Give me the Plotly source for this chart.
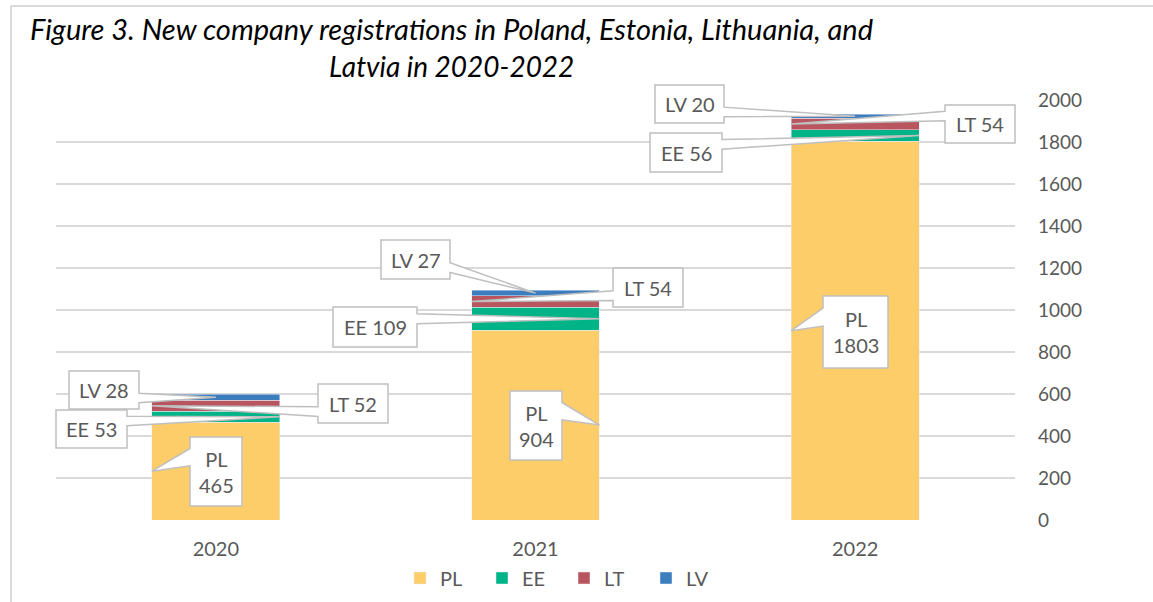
import numpy as np
import plotly.graph_objects as go

# ---- data ----
years = ["2020", "2021", "2022"]
series_names = ["PL", "EE", "LT", "LV"]
pl = [465, 904, 1803]
ee = [53, 109, 56]
lt = [52, 54, 54]
lv = [28, 27, 20]
y_ticks = [0, 200, 400, 600, 800, 1000, 1200, 1400, 1600, 1800, 2000]
title_line1 = "Figure 3. New company registra\u200ctions in Poland, Estonia, Lithuania, and"
title_line2 = "Latvia in 2020-2022"

# ---- style ----
colors = {"PL": "#FDCD6A", "EE": "#00B487", "LT": "#B9555F", "LV": "#3C7DBE"}
TXT = "#595959"
GRID = "#D9D9D9"
FONT = "Lato"
W, H = 1153, 602
ML, MR, MT, MB = 56, 138, 100, 82
PW, PH = W - ML - MR, H - MT - MB
YMAX = 2000
BARW = 0.4

def px(x):
    return (x - ML) / PW

def py(y):
    return (H - MB - y) / PH

values = {"PL": pl, "EE": ee, "LT": lt, "LV": lv}

fig = go.Figure()
for s in series_names:
    fig.add_trace(go.Bar(name=s, x=years, y=values[s], marker_color=colors[s],
                         width=BARW, hoverinfo="skip"))

# cumulative middles of each segment
stack = np.vstack([values[s] for s in series_names]).astype(float)
cum = np.cumsum(stack, axis=0)
mid = cum - stack / 2.0

# callout styling: box pixel geometry (l, t, r, b), wedge side, half, tip position on bar
callouts = {
    ("2020", "PL"): ((190, 437, 242, 506), "left", "upper", "left"),
    ("2020", "EE"): ((56, 410, 127, 448), "right", "upper", "right"),
    ("2020", "LT"): ((318, 384, 388, 423), "left", "lower", "left"),
    ("2020", "LV"): ((69, 371, 139, 409), "right", "lower", "center"),
    ("2021", "PL"): ((510, 391, 562, 460), "right", "upper", "right"),
    ("2021", "EE"): ((333, 307, 417, 347), "right", "upper", "right"),
    ("2021", "LT"): ((613, 268, 683, 307), "left", "lower", "left"),
    ("2021", "LV"): ((381, 240, 450, 279), "right", "lower", "center"),
    ("2022", "PL"): ((823, 296, 888, 368), "left", "upper", "left"),
    ("2022", "EE"): ((650, 133, 722, 172), "right", "upper", "right"),
    ("2022", "LT"): ((945, 105, 1015, 143), "left", "upper", "left"),
    ("2022", "LV"): ((655, 85, 724, 123), "right", "lower", "center"),
}

shapes = []
annotations = []
draw_order = ["LV", "LT", "EE", "PL"]
for i, yr in enumerate(years):
    for s in draw_order:
        k = series_names.index(s)
        (l, t, r, b), side, half, tippos = callouts[(yr, s)]
        cx = (i + 0.5) / len(years)
        hw = BARW / 2 / len(years)
        tx = {"left": cx - hw, "right": cx + hw, "center": cx}[tippos]
        ty = mid[k, i] / YMAX
        h = b - t
        if half == "upper":
            y1, y2 = t + h * 2 / 12, t + h * 5 / 12
        else:
            y1, y2 = t + h * 7 / 12, t + h * 10 / 12
        L, R, T, B = px(l), px(r), py(t), py(b)
        Y1, Y2 = py(y1), py(y2)
        if side == "left":
            pts = [(L, T), (R, T), (R, B), (L, B), (L, Y2), (tx, ty), (L, Y1)]
        else:
            pts = [(L, T), (R, T), (R, Y1), (tx, ty), (R, Y2), (R, B), (L, B)]
        path = "M " + " L ".join(f"{a:.5f},{c:.5f}" for a, c in pts) + " Z"
        shapes.append(dict(type="path", xref="paper", yref="paper", path=path,
                           fillcolor="white", line=dict(color="#BFBFBF", width=1.5),
                           layer="above"))
        val = int(stack[k, i])
        txt = f"{s}<br>{val}" if s == "PL" else f"{s} {val}"
        annotations.append(dict(xref="paper", yref="paper", x=px((l + r) / 2), y=py((t + b) / 2),
                                text=txt, showarrow=False, xanchor="center", yanchor="middle",
                                font=dict(family=FONT, size=20, color=TXT)))

# title
annotations.append(dict(xref="paper", yref="paper", x=px(451), y=py(29), text=f"<i>{title_line1}</i>",
                        showarrow=False, xanchor="center", yanchor="middle",
                        font=dict(family=FONT, size=29, color="#000000")))
annotations.append(dict(xref="paper", yref="paper", x=px(451), y=py(66), text=f"<i>{title_line2}</i>",
                        showarrow=False, xanchor="center", yanchor="middle",
                        font=dict(family=FONT, size=28, color="#000000")))

# outer frame (top and left lines)
shapes.append(dict(type="line", xref="paper", yref="paper", x0=px(11), x1=px(W + 5), y0=py(6), y1=py(6),
                   line=dict(color=GRID, width=2), layer="above"))
shapes.append(dict(type="line", xref="paper", yref="paper", x0=px(11), x1=px(11), y0=py(6), y1=py(H + 5),
                   line=dict(color=GRID, width=2), layer="above"))

fig.update_layout(
    barmode="stack",
    width=W, height=H,
    margin=dict(l=ML, r=MR, t=MT, b=MB, pad=0, autoexpand=False),
    plot_bgcolor="white", paper_bgcolor="white",
    font=dict(family=FONT, size=20, color=TXT),
    shapes=shapes,
    annotations=annotations,
    showlegend=True,
    legend=dict(orientation="h", x=px(400), xanchor="left", y=py(578), yanchor="middle",
                font=dict(family=FONT, size=20, color=TXT), traceorder="normal",
                entrywidth=37, entrywidthmode="pixels", itemwidth=30),
    xaxis=dict(type="category", showgrid=False, showline=False, ticks="", zeroline=False,
               automargin=False,
               tickfont=dict(family=FONT, size=20, color=TXT), ticklabelstandoff=15),
    yaxis=dict(side="right", range=[0, YMAX], tickvals=y_ticks, showgrid=True, gridcolor=GRID,
               gridwidth=1.5, zeroline=False, showline=False, ticks="", automargin=False,
               tickfont=dict(family=FONT, size=19, color=TXT), ticklabelstandoff=22),
)

fig.write_html("out.html", config={"displayModeBar": False},
               post_script="document.body.style.margin='0';document.body.style.overflow='hidden';")
